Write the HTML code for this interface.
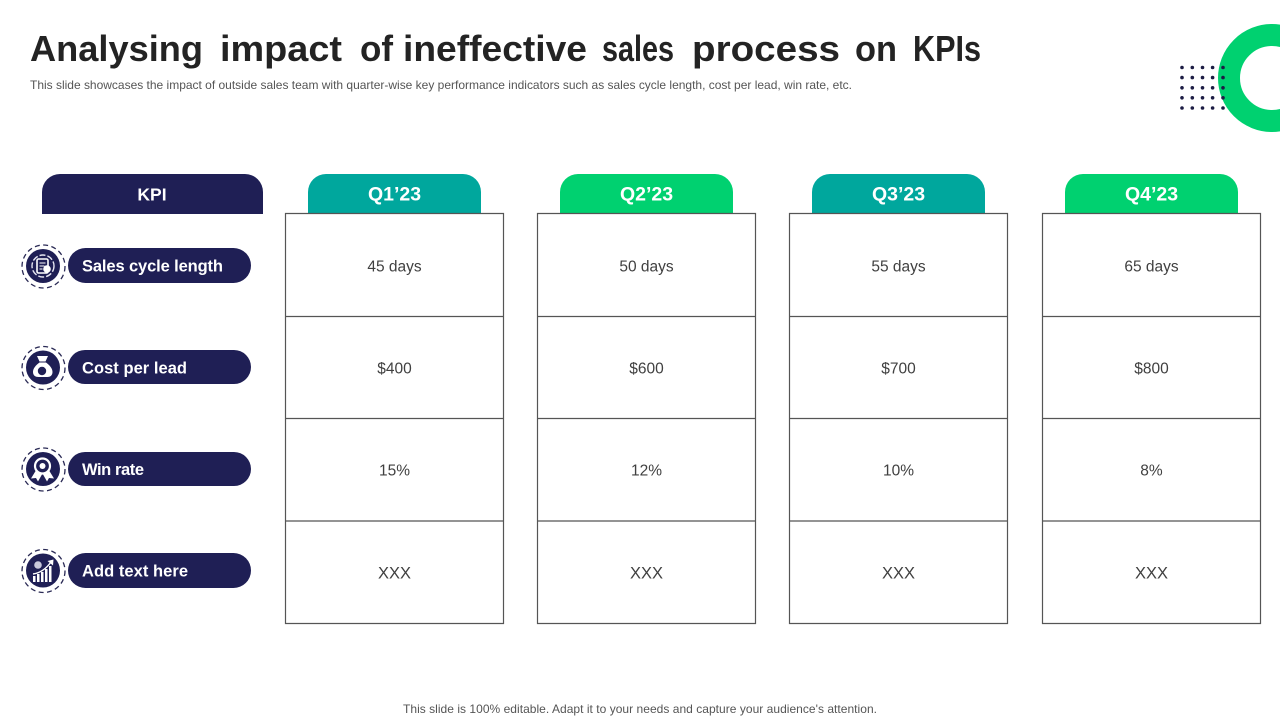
<!DOCTYPE html>
<html lang="en">
<head>
<meta charset="utf-8">
<title>Analysing impact of ineffective sales process on KPIs</title>
<style>
html,body{margin:0;padding:0;background:#fff;width:1280px;height:720px;overflow:hidden}
svg{display:block}
text{font-family:"Liberation Sans",sans-serif}
.pill-t{font-size:16.5px;font-weight:700;fill:#fff}
.cell-t{font-size:15.5px;fill:#404040;text-anchor:middle}
.head-t{font-size:19.5px;font-weight:700;fill:#fff;text-anchor:middle}
.grid{fill:none;stroke:#555;stroke-width:1.2}
.dash{fill:none;stroke:#2a2a55;stroke-width:1.3;stroke-dasharray:5 3.4}
.disc{fill:#1f1f55}
</style>
</head>
<body>
<svg width="1280" height="720" viewBox="0 0 1280 720" xmlns="http://www.w3.org/2000/svg">
  <rect width="1280" height="720" fill="#fff"/>

  <text y="61" font-size="36.5" font-weight="700" fill="#232323"><tspan x="30" textLength="173" lengthAdjust="spacingAndGlyphs">Analysing</tspan> <tspan x="220" textLength="122" lengthAdjust="spacingAndGlyphs">impact</tspan> <tspan x="360" textLength="33" lengthAdjust="spacingAndGlyphs">of</tspan> <tspan x="403" textLength="184" lengthAdjust="spacingAndGlyphs">ineffective</tspan> <tspan x="602" textLength="72" lengthAdjust="spacingAndGlyphs">sales</tspan> <tspan x="692" textLength="148" lengthAdjust="spacingAndGlyphs">process</tspan> <tspan x="855" textLength="42" lengthAdjust="spacingAndGlyphs">on</tspan> <tspan x="913" textLength="68" lengthAdjust="spacingAndGlyphs">KPIs</tspan></text>
  <text x="30" y="89" font-size="12" fill="#555" textLength="822" lengthAdjust="spacing">This slide showcases the impact of outside sales team with quarter-wise key performance indicators such as sales cycle length, cost per lead, win rate, etc.</text>

  <circle cx="1272" cy="78" r="43" fill="none" stroke="#00d170" stroke-width="22"/>
  <g fill="#1c1c44">
    <circle cx="1182" cy="67.5" r="1.8"/><circle cx="1192.3" cy="67.5" r="1.8"/><circle cx="1202.5" cy="67.5" r="1.8"/><circle cx="1212.6" cy="67.5" r="1.8"/><circle cx="1223" cy="67.5" r="1.8"/>
    <circle cx="1182" cy="77.6" r="1.8"/><circle cx="1192.3" cy="77.6" r="1.8"/><circle cx="1202.5" cy="77.6" r="1.8"/><circle cx="1212.6" cy="77.6" r="1.8"/><circle cx="1223" cy="77.6" r="1.8"/>
    <circle cx="1182" cy="87.8" r="1.8"/><circle cx="1192.3" cy="87.8" r="1.8"/><circle cx="1202.5" cy="87.8" r="1.8"/><circle cx="1212.6" cy="87.8" r="1.8"/><circle cx="1223" cy="87.8" r="1.8"/>
    <circle cx="1182" cy="97.8" r="1.8"/><circle cx="1192.3" cy="97.8" r="1.8"/><circle cx="1202.5" cy="97.8" r="1.8"/><circle cx="1212.6" cy="97.8" r="1.8"/><circle cx="1223" cy="97.8" r="1.8"/>
    <circle cx="1182" cy="108" r="1.8"/><circle cx="1192.3" cy="108" r="1.8"/><circle cx="1202.5" cy="108" r="1.8"/><circle cx="1212.6" cy="108" r="1.8"/><circle cx="1223" cy="108" r="1.8"/>
  </g>

  <!-- Header tabs -->
  <g>
    <path d="M42 214V192a18 18 0 0 1 18-18H245a18 18 0 0 1 18 18V214Z" fill="#1f1f55"/>
    <text x="152" y="200.5" class="head-t" style="font-size:17.5px">KPI</text>
  </g>
  <g>
    <path d="M308 214V192a18 18 0 0 1 18-18H463a18 18 0 0 1 18 18V214Z" fill="#00a79d"/>
    <text x="394.5" y="200.5" class="head-t">Q1’23</text>
  </g>
  <g>
    <path d="M560 214V192a18 18 0 0 1 18-18H715a18 18 0 0 1 18 18V214Z" fill="#00d170"/>
    <text x="646.5" y="200.5" class="head-t">Q2’23</text>
  </g>
  <g>
    <path d="M812 214V192a18 18 0 0 1 18-18H967a18 18 0 0 1 18 18V214Z" fill="#00a79d"/>
    <text x="898.5" y="200.5" class="head-t">Q3’23</text>
  </g>
  <g>
    <path d="M1065 214V192a18 18 0 0 1 18-18H1220a18 18 0 0 1 18 18V214Z" fill="#00d170"/>
    <text x="1151.5" y="200.5" class="head-t">Q4’23</text>
  </g>

  <!-- Quarter columns -->
  <g>
    <path class="grid" d="M285.5 213.5H503.5V623.5H285.5ZM285.5 316.5H503.5M285.5 418.5H503.5M285.5 521H503.5"/>
    <text x="394.5" y="271.5" class="cell-t">45 days</text>
    <text x="394.5" y="373.5" class="cell-t">$400</text>
    <text x="394.5" y="475.5" class="cell-t">15%</text>
    <text x="394.5" y="578.5" class="cell-t" style="font-size:16.5px">XXX</text>
  </g>
  <g>
    <path class="grid" d="M537.5 213.5H755.5V623.5H537.5ZM537.5 316.5H755.5M537.5 418.5H755.5M537.5 521H755.5"/>
    <text x="646.5" y="271.5" class="cell-t">50 days</text>
    <text x="646.5" y="373.5" class="cell-t">$600</text>
    <text x="646.5" y="475.5" class="cell-t">12%</text>
    <text x="646.5" y="578.5" class="cell-t" style="font-size:16.5px">XXX</text>
  </g>
  <g>
    <path class="grid" d="M789.5 213.5H1007.5V623.5H789.5ZM789.5 316.5H1007.5M789.5 418.5H1007.5M789.5 521H1007.5"/>
    <text x="898.5" y="271.5" class="cell-t">55 days</text>
    <text x="898.5" y="373.5" class="cell-t">$700</text>
    <text x="898.5" y="475.5" class="cell-t">10%</text>
    <text x="898.5" y="578.5" class="cell-t" style="font-size:16.5px">XXX</text>
  </g>
  <g>
    <path class="grid" d="M1042.5 213.5H1260.5V623.5H1042.5ZM1042.5 316.5H1260.5M1042.5 418.5H1260.5M1042.5 521H1260.5"/>
    <text x="1151.5" y="271.5" class="cell-t">65 days</text>
    <text x="1151.5" y="373.5" class="cell-t">$800</text>
    <text x="1151.5" y="475.5" class="cell-t">8%</text>
    <text x="1151.5" y="578.5" class="cell-t" style="font-size:16.5px">XXX</text>
  </g>

  <!-- KPI rows -->
  <g>
    <circle class="dash" cx="43.5" cy="266.5" r="21.5"/>
    <circle class="disc" cx="43" cy="266" r="17"/>
    <g>
      <circle cx="43" cy="266" r="11" fill="none" stroke="#e4e4f0" stroke-width="1.4" stroke-dasharray="6 2"/>
      <rect x="37" y="259" width="11" height="14" rx="1.5" fill="#1f1f55" stroke="#fff" stroke-width="1.6"/>
      <circle cx="47" cy="269" r="3.8" fill="#fff"/>
      <path d="M39.5 263h6M39.5 266h5M39.5 269h3" stroke="#fff" stroke-width="1.1"/>
    </g>
    <rect x="68" y="248" width="183" height="35" rx="17.5" fill="#1f1f55"/>
    <text x="82" y="271.5" class="pill-t" textLength="141" lengthAdjust="spacing">Sales cycle length</text>
  </g>
  <g>
    <circle class="dash" cx="43.5" cy="368" r="21.5"/>
    <circle class="disc" cx="43" cy="367.5" r="17"/>
    <g>
      <path d="M37 356h11l-2.500 5.500h-6ZM39.500 362.500h6.500c4 3 6.500 6 6.500 9.500 0 3.500-2.500 5-5 5h-9c-3 0-5.500-1.500-5.500-5 0-3.500 2.500-6.500 6.500-9.500Z" fill="#fff"/>
      <circle cx="42" cy="371" r="4.200" fill="#1f1f55"/>
    </g>
    <rect x="68" y="350" width="183" height="34" rx="17" fill="#1f1f55"/>
    <text x="82" y="373.500" class="pill-t" textLength="105" lengthAdjust="spacing">Cost per lead</text>
  </g>
  <g>
    <circle class="dash" cx="43.500" cy="469.500" r="21.500"/>
    <circle class="disc" cx="43" cy="469" r="17"/>
    <g>
      <path d="M37 470l-5.500 9 5-.5 2 3.500 4.500-8ZM49 470l5.500 9-5-.5-2 3.500-4.500-8Z" transform="translate(-0.500 -0.500)" fill="#fff"/>
      <circle cx="42.500" cy="466" r="7.500" fill="#1f1f55" stroke="#fff" stroke-width="2.200"/>
      <circle cx="42.500" cy="466" r="3" fill="#fff"/>
    </g>
    <rect x="68" y="452" width="183" height="34" rx="17" fill="#1f1f55"/>
    <text x="82" y="475" class="pill-t" textLength="62" lengthAdjust="spacing">Win rate</text>
  </g>
  <g>
    <circle class="dash" cx="43.500" cy="571" r="21.500"/>
    <circle class="disc" cx="43" cy="570.500" r="17"/>
    <g>
      <circle cx="38" cy="565" r="3.800" fill="#c9c9dc"/>
      <path d="M33 582v-6h2.500v6ZM37 582v-8h2.500v8ZM41 582v-10h2.500v10ZM45 582v-13h2.500v13ZM49 582v-16h2.500v16Z" fill="#fff"/>
      <path d="M33 574c7-1 13-5 18-12" fill="none" stroke="#fff" stroke-width="1.400"/>
      <path d="M47.500 561l6-1.500-.5 6Z" fill="#fff"/>
    </g>
    <rect x="68" y="553" width="183" height="35" rx="17.500" fill="#1f1f55"/>
    <text x="82" y="576.500" class="pill-t" textLength="106" lengthAdjust="spacing">Add text here</text>
  </g>

  <text x="403" y="713" font-size="12" fill="#555" textLength="474" lengthAdjust="spacing">This slide is 100% editable. Adapt it to your needs and capture your audience's attention.</text>
</svg>
</body>
</html>
